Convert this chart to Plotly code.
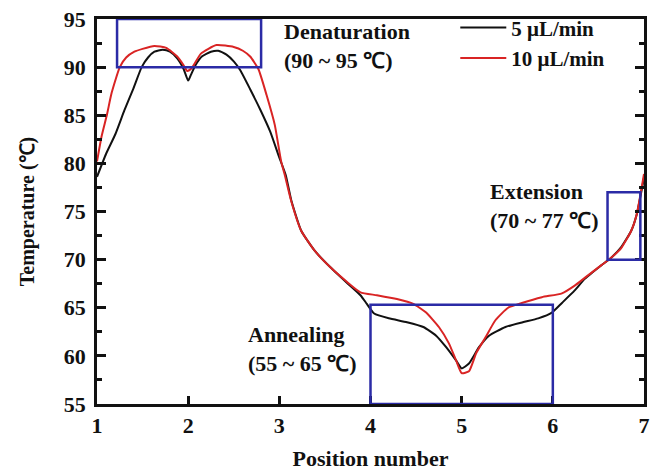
import plotly.graph_objects as go

# 5 uL/min (black)
x_5 = [1.0, 1.1, 1.2, 1.3, 1.4, 1.49, 1.56, 1.63, 1.72, 1.8, 1.88, 1.95, 2.0, 2.03,
       2.08, 2.15, 2.25, 2.33, 2.42, 2.5, 2.57, 2.68, 2.79, 2.9, 3.0, 3.07, 3.13, 3.24, 3.39,
       3.56, 3.74, 3.89, 3.96, 4.04, 4.2, 4.4, 4.58, 4.72, 4.83, 4.94, 5.0, 5.08, 5.19, 5.3,
       5.48, 5.67, 5.84, 5.99, 6.1, 6.24, 6.35, 6.53, 6.64, 6.75, 6.86, 6.92, 7.0]
t_5 = [78.6, 81.0, 83.0, 85.5, 87.8, 90.0, 91.0, 91.6, 91.8, 91.6, 90.9, 89.8, 88.6, 89.2,
       90.2, 91.1, 91.6, 91.7, 91.3, 90.6, 89.7, 87.7, 85.6, 83.3, 80.6, 78.8, 76.2, 73.0, 70.9,
       69.2, 67.6, 66.3, 65.4, 64.4, 63.9, 63.5, 63.0, 62.1, 60.9, 59.5, 58.7, 59.2, 60.9, 62.1,
       63.0, 63.5, 63.9, 64.5, 65.5, 66.8, 68.0, 69.4, 70.2, 71.3, 73.0, 74.7, 78.5]

# 10 uL/min (red)
x_10 = [1.0, 1.05, 1.11, 1.16, 1.25, 1.32, 1.41, 1.5, 1.63, 1.76, 1.88, 1.95, 1.99, 2.04, 2.14,
        2.31, 2.5, 2.6, 2.68, 2.77, 2.86, 2.95, 3.02, 3.06, 3.13, 3.24, 3.39, 3.56, 3.74, 3.89,
        4.07, 4.29, 4.47, 4.61, 4.75, 4.86, 4.94, 5.0, 5.08, 5.16, 5.26, 5.37, 5.51, 5.66, 5.88,
        6.1, 6.24, 6.35, 6.53, 6.64, 6.75, 6.86, 6.92, 7.0]
t_10 = [80.2, 82.8, 85.1, 87.3, 90.0, 91.0, 91.6, 91.9, 92.2, 92.0, 91.1, 90.2, 89.6, 89.9, 91.4,
        92.3, 92.1, 91.7, 91.1, 89.8, 87.1, 84.0, 80.2, 78.8, 76.1, 73.0, 70.9, 69.2, 67.7, 66.6,
        66.3, 65.9, 65.4, 64.5, 63.0, 61.3, 59.5, 58.2, 58.4, 60.3, 61.9, 63.7, 65.0, 65.5, 66.1,
        66.5, 67.3, 68.1, 69.4, 70.2, 71.2, 73.0, 74.7, 78.9]

series_names = ["5 μL/min", "10 μL/min"]

# temperature zones
zone_x0 = [1.22, 4.0, 6.6]
zone_x1 = [2.8, 6.0, 6.96]
zone_y0 = [90, 55, 70]
zone_y1 = [95, 65.3, 77]
zone_labels = ["Denaturation<br>(90 ~ 95 ℃)", "Annealing<br>(55 ~ 65 ℃)", "Extension<br>(70 ~ 77 ℃)"]
label_x = [3.03, 2.63, 5.29]
label_y = [92.15, 60.7, 75.6]

x_ticks = [1, 2, 3, 4, 5, 6, 7]
y_ticks = [55, 60, 65, 70, 75, 80, 85, 90, 95]

FONT = "Liberation Serif"
FS = 22
fig = go.Figure()
fig.add_trace(go.Scatter(x=x_5, y=t_5, mode="lines", name=series_names[0],
                         line=dict(color="#111111", width=2, shape="spline", smoothing=0.5)))
fig.add_trace(go.Scatter(x=x_10, y=t_10, mode="lines", name=series_names[1],
                         line=dict(color="#d92424", width=2, shape="spline", smoothing=0.5)))

for x0, x1, y0, y1 in zip(zone_x0, zone_x1, zone_y0, zone_y1):
    fig.add_shape(type="rect", xref="x", yref="y", x0=x0, x1=x1, y0=y0, y1=y1,
                  line=dict(color="#2b2ba6", width=2.5), fillcolor="rgba(0,0,0,0)")

for lx, ly, txt in zip(label_x, label_y, zone_labels):
    fig.add_annotation(x=lx, y=ly, xref="x", yref="y", text=txt, showarrow=False,
                       xanchor="left", yanchor="middle", align="left",
                       font=dict(family=FONT, size=FS, color="#111111", weight="bold"))

fig.update_layout(
    width=657, height=475,
    margin=dict(l=97, r=7, t=17, b=71),
    paper_bgcolor="white", plot_bgcolor="white",
    font=dict(family=FONT, size=FS, color="#111111", weight="bold"),
    legend=dict(x=0.655, y=1.03, xanchor="left", yanchor="top", bgcolor="rgba(0,0,0,0)",
                font=dict(family=FONT, size=21, weight="bold"), itemwidth=46,
                tracegroupgap=0),
    showlegend=True,
)
fig.update_xaxes(range=[1, 7], tickvals=x_ticks, ticktext=[str(v) for v in x_ticks],
                 ticks="inside", ticklen=8, tickwidth=2.5, tickcolor="#111",
                 showline=True, linecolor="#111", linewidth=2.5, mirror=True,
                 showgrid=False, zeroline=False,
                 tickfont=dict(family=FONT, size=FS, weight="bold"),
                 title=dict(text="Position number", standoff=14,
                            font=dict(family=FONT, size=FS, weight="bold")))
fig.update_yaxes(range=[55, 95], tickvals=y_ticks, ticktext=[str(v) for v in y_ticks],
                 ticks="inside", ticklen=9, tickwidth=2.5, tickcolor="#111",
                 minor=dict(dtick=2.5, ticks="inside", ticklen=5, tickwidth=2.5, tickcolor="#111"),
                 showline=True, linecolor="#111", linewidth=2.5, mirror="ticks",
                 showgrid=False, zeroline=False, ticklabelstandoff=4,
                 tickfont=dict(family=FONT, size=FS, weight="bold"),
                 title=dict(text="Temperature (℃)", standoff=24,
                            font=dict(family=FONT, size=20, weight="bold")))

fig.write_html("out.html")
